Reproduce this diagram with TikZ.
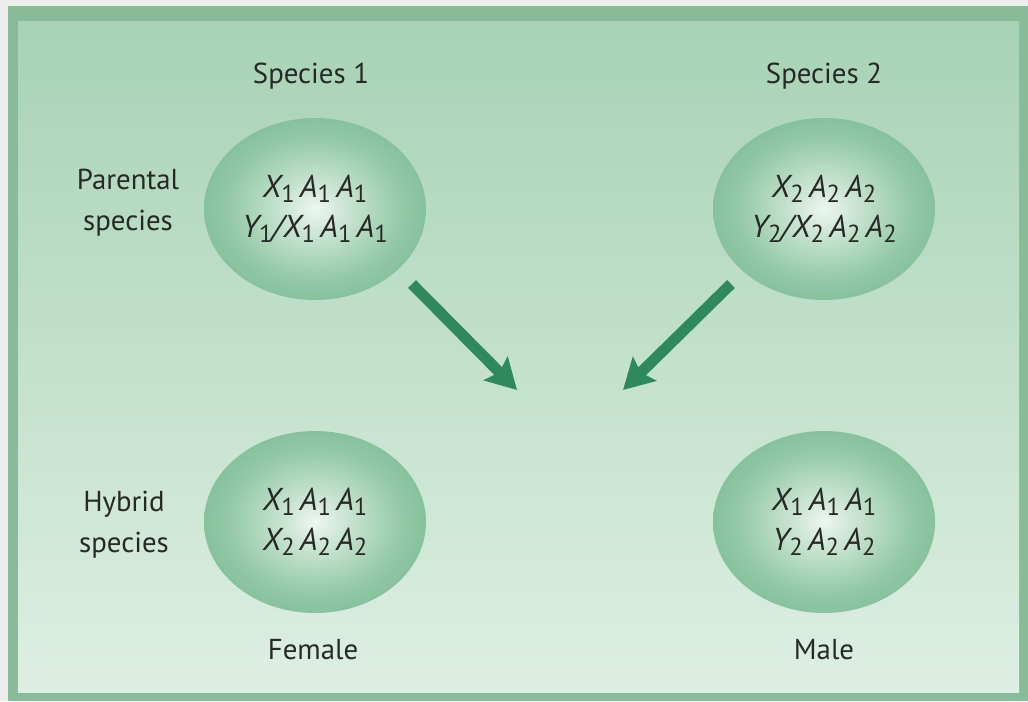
\documentclass[tikz,border=0pt]{standalone}
\usepackage{fontspec}
\setmainfont{PT Sans}
\usetikzlibrary{shapes.geometric,arrows.meta}

\definecolor{framegreen}{HTML}{88BC99}
\definecolor{paneltop}{HTML}{A8D2B6}
\definecolor{panelbot}{HTML}{DDEFE3}
\definecolor{arrowgreen}{HTML}{2E8A5C}
\definecolor{textgray}{HTML}{262926}
\definecolor{cellcore}{HTML}{EEF6F0}
\definecolor{cellinner}{HTML}{CFE7D7}
\definecolor{cellmid}{HTML}{92C8A5}
\definecolor{cellouter}{HTML}{68B088}
\definecolor{cellrim}{HTML}{4E9E76}

\pgfdeclareradialshading{cellshade}{\pgfpointorigin}{color(0bp)=(cellcore); color(6bp)=(cellinner); color(20bp)=(cellmid); color(38bp)=(cellouter); color(50bp)=(cellrim)}

\newcommand{\sbs}[1]{\raisebox{-0.3ex}{\fontsize{7}{7}\selectfont\upshape#1}}

\tikzset{
  cell/.style={ellipse, minimum width=2.22cm, minimum height=1.82cm, inner sep=0pt,
    shading=cellshade, align=center, text=textgray,
    font=\fontsize{9}{11.4}\selectfont\itshape},
  sidetext/.style={align=center, text=textgray, font=\fontsize{8.2}{11.7}\selectfont},
  bigarrow/.style={arrowgreen, line width=1.1mm,
    -{Stealth[length=3mm,width=3.3mm,inset=0.5mm]}}
}

\begin{document}
\begin{tikzpicture}[x=0.1mm,y=-0.1mm]
    \newcommand{\lx}{315}
    \newcommand{\rx}{824}
    \newcommand{\ty}{209}
    \newcommand{\by}{522}
    \useasboundingbox (0,0) rectangle (1028,701);

    % frame and panel
    \fill[black!7] (0,0) rectangle (1028,701);
    \fill[framegreen] (8,6) rectangle (1028,701);
    \shade[top color=paneltop, bottom color=panelbot] (18,22) rectangle (1019,692);

    % cells
    \node[cell] (sp1) at (\lx,\ty) {X\sbs1\,A\sbs1\,A\sbs1\\Y\sbs1/X\sbs1\,A\sbs1\,A\sbs1};
    \node[cell] (sp2) at (\rx,\ty) {X\sbs2\,A\sbs2\,A\sbs2\\Y\sbs2/X\sbs2\,A\sbs2\,A\sbs2};
    \node[cell] (female) at (\lx,\by) {X\sbs1\,A\sbs1\,A\sbs1\\X\sbs2\,A\sbs2\,A\sbs2};
    \node[cell] (male) at (\rx,\by) {X\sbs1\,A\sbs1\,A\sbs1\\Y\sbs2\,A\sbs2\,A\sbs2};

    % labels
    \node[sidetext] (head1) at (\lx-4,76) {Species 1};
    \node[sidetext] (head2) at (\rx,76) {Species 2};
    \node[sidetext] (parental) at (128,203) {Parental\\species};
    \node[sidetext] (hybrid) at (124,525) {Hybrid\\species};
    \node[sidetext] (femalename) at (\lx-2,650) {Female};
    \node[sidetext] (malename) at (\rx,650) {Male};

    % arrows
    \coordinate (tail1) at (412,284);
    \coordinate (tip1) at (517,390);
    \coordinate (tail2) at (731,284);
    \coordinate (tip2) at (623,390);
    \draw[bigarrow] (tail1) -- (tip1);
    \draw[bigarrow] (tail2) -- (tip2);
\end{tikzpicture}
\end{document}
